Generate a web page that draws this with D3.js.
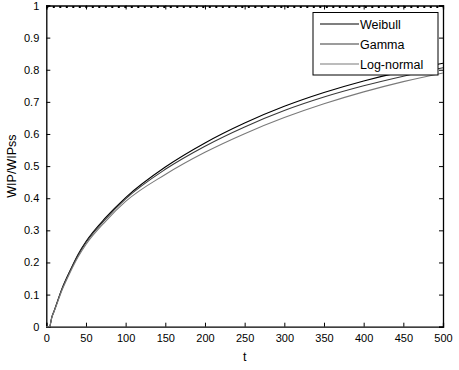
<!DOCTYPE html>
<html><head><meta charset="utf-8">
<script src="https://cdn.jsdelivr.net/npm/d3@7"></script>
<style>body{margin:0;background:#fff}svg{display:block}text{font-family:"Liberation Sans",Arial,sans-serif}</style>
</head><body>
<svg id="c" width="459" height="370"></svg>
<script>
const tVals   = [0, 4, 7, 10, 20, 30, 40, 50, 75, 100, 150, 200, 250, 300, 350, 400, 450, 500];
const weibull = [0, 0, 0.03, 0.05, 0.12, 0.175, 0.225, 0.265, 0.34, 0.402, 0.497, 0.572, 0.634, 0.686, 0.729, 0.765, 0.795, 0.82];
const gamma   = [0, 0, 0.03, 0.05, 0.118, 0.173, 0.222, 0.262, 0.336, 0.398, 0.49, 0.562, 0.622, 0.673, 0.715, 0.75, 0.78, 0.806];
const lognorm = [0, 0, 0.029, 0.048, 0.115, 0.169, 0.217, 0.256, 0.329, 0.39, 0.474, 0.543, 0.601, 0.651, 0.694, 0.731, 0.763, 0.79];
const steady = [1, 1];
const steadyT = [0, 500];
const xTicks = [0, 50, 100, 150, 200, 250, 300, 350, 400, 450, 500];
const yTicks = [0, 0.1, 0.2, 0.3, 0.4, 0.5, 0.6, 0.7, 0.8, 0.9, 1];
const seriesNames = ["Weibull", "Gamma", "Log-normal"];
const seriesColors = ["#000000", "#3a3a3a", "#7a7a7a"];

const svg = d3.select("#c");
const L = 46.3, R = 443, T = 5.5, B = 326.7;
const x = d3.scaleLinear().domain([0, 500]).range([L, R]);
const y = d3.scaleLinear().domain([0, 1]).range([B, T]);

const fmt = d => d3.format("~g")(d);
const gB = svg.append("g").attr("transform", `translate(0,${B})`)
  .call(d3.axisBottom(x).tickValues(xTicks).tickSize(-4).tickPadding(8).tickFormat(fmt));
const gT = svg.append("g").attr("transform", `translate(0,${T})`)
  .call(d3.axisTop(x).tickValues(xTicks).tickSize(-4).tickFormat(""));
const gL = svg.append("g").attr("transform", `translate(${L},0)`)
  .call(d3.axisLeft(y).tickValues(yTicks).tickSize(-4).tickPadding(7).tickFormat(fmt));
const gR = svg.append("g").attr("transform", `translate(${R},0)`)
  .call(d3.axisRight(y).tickValues(yTicks).tickSize(-4).tickFormat(""));
[gB, gT, gL, gR].forEach(g => {
  g.selectAll("path.domain").attr("stroke", "#000").attr("stroke-width", 1.3);
  g.selectAll(".tick line").attr("stroke", "#000");
  g.selectAll("text").attr("font-size", 11).attr("fill", "#000").attr("font-family", "Liberation Sans, Arial, sans-serif");
});

svg.append("path")
  .datum(steadyT.map((t, i) => [t, steady[i]]))
  .attr("d", d3.line().x(d => x(d[0])).y(d => y(d[1]) + 1.5))
  .attr("fill", "none").attr("stroke", "#000").attr("stroke-width", 2)
  .attr("stroke-dasharray", "2,4.5");

const line = d3.line().x(d => x(d[0])).y(d => y(d[1])).curve(d3.curveMonotoneX);
[weibull, gamma, lognorm].forEach((s, i) => {
  svg.append("path")
    .datum(tVals.map((t, j) => [t, s[j]]))
    .attr("d", line)
    .attr("fill", "none").attr("stroke", seriesColors[i]).attr("stroke-width", 1.1);
});

const lg = svg.append("g");
lg.append("rect").attr("x", 313).attr("y", 12.5).attr("width", 125).attr("height", 62.5)
  .attr("fill", "#fff").attr("stroke", "#000").attr("stroke-width", 1);
seriesNames.forEach((n, i) => {
  const yy = 24 + i * 20;
  lg.append("line").attr("x1", 320).attr("x2", 359).attr("y1", yy).attr("y2", yy)
    .attr("stroke", seriesColors[i]).attr("stroke-width", 1.1);
  lg.append("text").attr("x", 360).attr("y", yy + 4.5).attr("font-size", 12.5).text(n);
});

svg.append("text").attr("x", x(250)).attr("y", 361).attr("text-anchor", "middle").attr("font-size", 12.5).text("t");
svg.append("text").attr("transform", `translate(16,${y(0.5)}) rotate(-90)`).attr("text-anchor", "middle")
  .attr("font-size", 12.5).text("WIP/WIPss");
</script>
</body></html>
